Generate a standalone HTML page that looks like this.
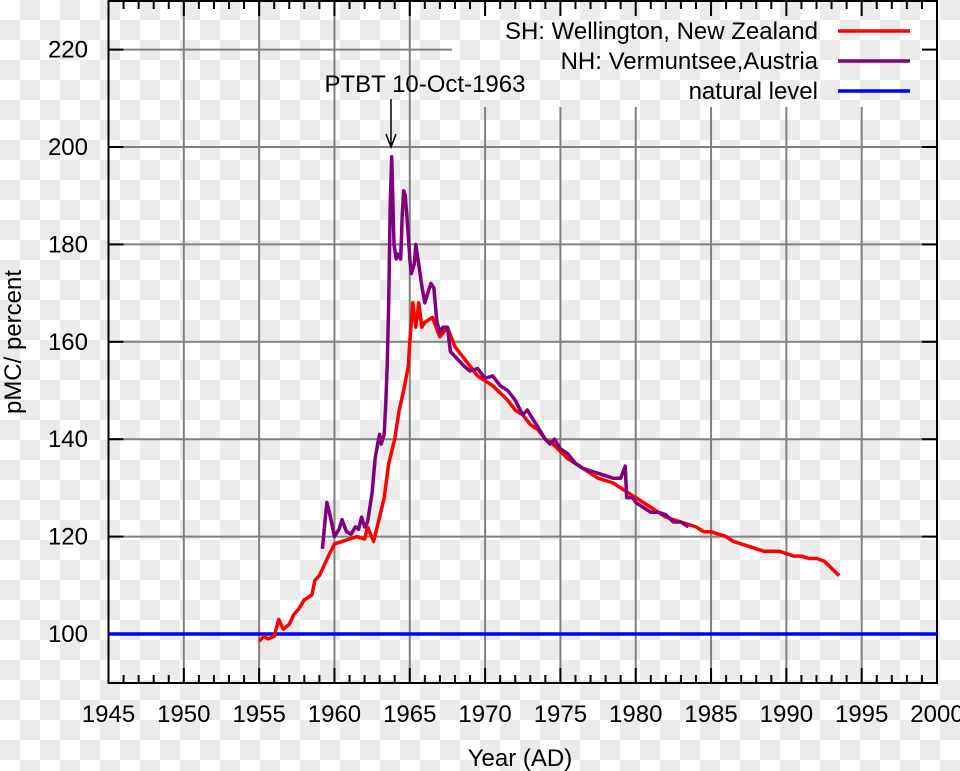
<!DOCTYPE html>
<html><head><meta charset="utf-8">
<style>
html,body{margin:0;padding:0;}
body{width:960px;height:771px;overflow:hidden;
background-color:#fff;
background-image:conic-gradient(#ebebeb 25%,#fff 0 50%,#ebebeb 0 75%,#fff 0);
background-size:40px 40px;}
svg{position:absolute;left:0;top:0;font-family:"Liberation Sans",sans-serif;}
</style></head>
<body>
<svg id="chart" width="960" height="771"></svg>
<script>
const xTicks=[1945,1950,1955,1960,1965,1970,1975,1980,1985,1990,1995,2000];
const yTicks=[100,120,140,160,180,200,220];
const shYears=[1955.0,1955.3,1955.6,1956.0,1956.3,1956.6,1957.0,1957.3,1957.6,1958.0,1958.5,1958.7,1959.0,1959.3,1959.6,1960.0,1960.5,1961.0,1961.5,1962.0,1962.2,1962.6,1963.0,1963.3,1963.6,1964.0,1964.3,1964.6,1964.9,1965.0,1965.2,1965.4,1965.6,1965.8,1966.0,1966.5,1967.0,1967.5,1968.0,1968.5,1969.0,1969.5,1970.0,1970.5,1971.0,1971.5,1972.0,1972.5,1973.0,1973.5,1974.0,1974.5,1975.0,1975.5,1976.0,1976.5,1977.0,1977.5,1978.0,1978.5,1979.0,1979.5,1980.0,1980.5,1981.0,1981.5,1982.0,1982.5,1983.0,1983.5,1984.0,1984.5,1985.0,1985.5,1986.0,1986.5,1987.0,1987.5,1988.0,1988.5,1989.0,1989.5,1990.0,1990.5,1991.0,1991.5,1992.0,1992.5,1993.0,1993.5];
const shValues=[98.5,99.5,99,99.5,103,101,102,104,105,107,108,111,112,114,116,118.5,119,119.5,120,119.5,122,119,124,128,135,140,146,150,155,160,168,163,168,163,164,165,161,163,159,157,155,153,152,151,149.5,148,146,145,143,142,140,139,137.5,136,135,134,133,132,131.5,131,130,129,128,127,126,125,124,123.5,123,122.5,122,121,121,120.5,120,119,118.5,118,117.5,117,117,117,116.5,116,116,115.5,115.5,115,113.5,112];
const nhYears=[1959.2,1959.4,1959.5,1959.7,1960.0,1960.3,1960.5,1960.8,1961.1,1961.4,1961.6,1961.8,1962.0,1962.2,1962.5,1962.7,1962.9,1963.0,1963.1,1963.3,1963.4,1963.5,1963.6,1963.7,1963.8,1963.95,1964.1,1964.2,1964.4,1964.5,1964.6,1964.7,1964.9,1965.0,1965.1,1965.3,1965.4,1965.5,1965.8,1966.0,1966.2,1966.4,1966.6,1966.8,1967.0,1967.2,1967.5,1967.7,1968.0,1968.3,1968.6,1969.0,1969.5,1970.0,1970.5,1971.0,1971.5,1972.0,1972.5,1972.8,1973.0,1973.5,1974.0,1974.3,1974.6,1975.0,1975.5,1976.0,1976.5,1977.0,1977.5,1978.0,1978.5,1979.0,1979.3,1979.4,1979.8,1980.0,1980.5,1981.0,1981.5,1982.0,1982.5,1983.0,1983.5];
const nhValues=[117.5,124,127,124.5,120,121.5,123.5,121,120.5,122,121.5,124,122,123,129,136,139.5,141,139,141,147,155,168,188,198,180,177,178,177,186,191,190,182,177,174,176,180,178,171.5,168,170,172,171,164,162,163,163,158,157,156,155,154,154.5,152.5,153,151,150,148,145,146,145,142.5,140,139,140,138,137,135,134,133.5,133,132.5,132,132,134.5,128,128,127,126,125,125,124.5,123,123,122];
const naturalLevel=[100];

const NS="http://www.w3.org/2000/svg";
const svg=document.getElementById('chart');
const L=108.5,R=937,T=1,B=683;
const X=v=>L+(v-1945)*(R-L)/55;
const Y=v=>634-(v-100)*4.87;
function mk(tag,attrs,parent){const e=document.createElementNS(NS,tag);for(const k in attrs)e.setAttribute(k,attrs[k]);(parent||svg).appendChild(e);return e;}

const grid=mk('g',{stroke:'#808080','stroke-width':2});


xTicks.slice(1,-1).forEach(t=>{
  const x=X(t);const top=x>452?107:T;
  const l=mk('line',{x1:x,x2:x,y1:top,y2:B},grid);
  
  
});
yTicks.forEach(t=>{
  const y=Y(t);const right=y<107?452:R;
  const l=mk('line',{x1:L,x2:right,y1:y,y2:y},grid);
  
  
});
const tk=mk('g',{stroke:'#000','stroke-width':2});


for(let yr=1945;yr<=2000;yr++){
  const x=X(yr);const len=yr%5===0?15:8;
  mk('line',{x1:x,x2:x,y1:B,y2:B-len},tk);
  mk('line',{x1:x,x2:x,y1:T,y2:T+len},tk);
}
yTicks.forEach(t=>{const y=Y(t);mk('line',{x1:L,x2:L+15,y1:y,y2:y},tk);mk('line',{x1:R,x2:R-15,y1:y,y2:y},tk);});
const fr=mk('rect',{x:L,y:T,width:R-L,height:B-T,fill:'none',stroke:'#000','stroke-width':2});


xTicks.forEach(t=>{const e=mk('text',{x:X(t),y:722,'text-anchor':'middle','font-size':24},svg);e.textContent=t;
  
  });
yTicks.forEach(t=>{const e=mk('text',{x:88,y:Y(t)+8,'text-anchor':'end','font-size':24},svg);e.textContent=t;
  
  });
function series(xs,vs,color,name){
  const d=xs.map((x,i)=>(i?'L':'M')+X(x).toFixed(1)+' '+Y(vs[i]).toFixed(1)).join(' ');
  const p=mk('path',{d:d,fill:'none',stroke:color,'stroke-width':3.5,'stroke-linejoin':'round'});
  
  
}
const nl=mk('line',{x1:L,x2:R,y1:Y(naturalLevel[0]),y2:Y(naturalLevel[0]),stroke:'#0000ff','stroke-width':3.5});


series(shYears,shValues,'#ff0000','sh-wellington-line');
series(nhYears,nhValues,'#800080','nh-vermuntsee-line');
const legend=[['SH: Wellington, New Zealand','#ff0000',31],['NH: Vermuntsee,Austria','#800080',61],['natural level','#0000ff',91]];
legend.forEach(([label,c,y])=>{
  const g=mk('g',{});
  
  
  const t=mk('text',{x:818,y:y+8,'text-anchor':'end','font-size':24},g);t.textContent=label;
  mk('line',{x1:838,x2:910,y1:y,y2:y,stroke:c,'stroke-width':3.5},g);
});
</script>
<svg width="960" height="771" style="pointer-events:none">
<text x="425" y="92" text-anchor="middle" font-size="24">PTBT 10-Oct-1963</text>
<line x1="391" y1="99" x2="391" y2="146" stroke="#000" stroke-width="1.5"/>
<path d="M386 134 L391 147 L396 134" fill="none" stroke="#000" stroke-width="1.5"/>
<text x="520" y="766" text-anchor="middle" font-size="24">Year (AD)</text>
<text transform="translate(21,342) rotate(-90)" text-anchor="middle" font-size="24">pMC/ percent</text>
</svg>
</body></html>
